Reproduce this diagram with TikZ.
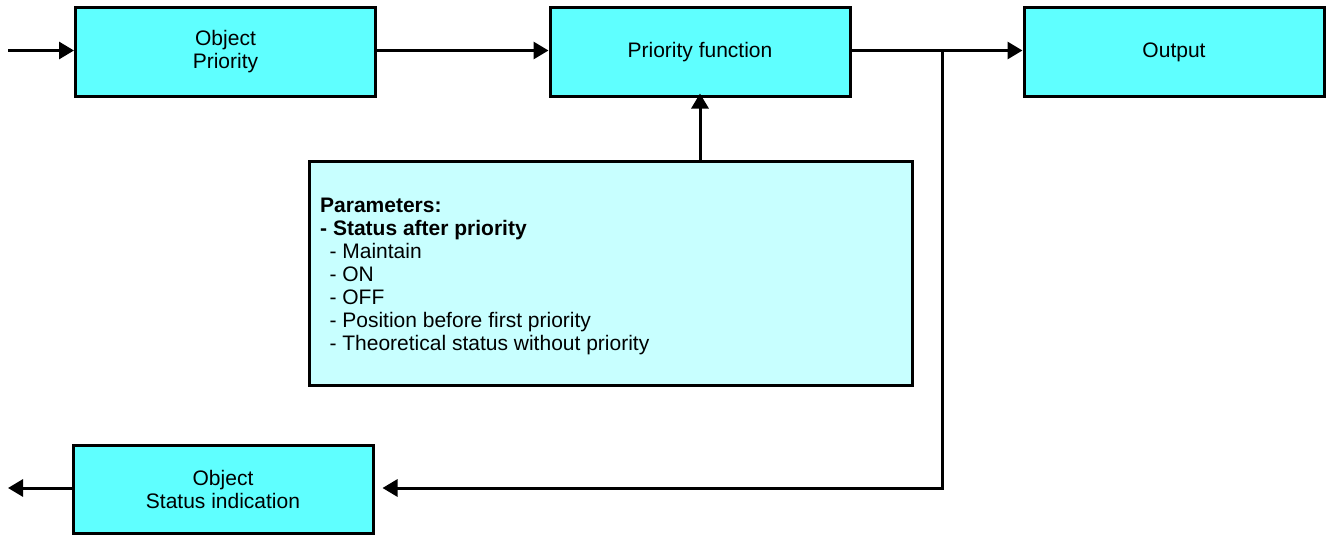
\documentclass[tikz,border=0pt]{standalone}
\usepackage{fontspec}
\setmainfont{Liberation Sans}
\usetikzlibrary{arrows.meta}
\definecolor{boxcyan}{HTML}{5FFFFF}
\definecolor{paramcyan}{HTML}{C8FFFF}
\tikzset{
  blk/.style={draw=black, line width=3pt, fill=boxcyan, minimum width=300pt, minimum height=88pt, inner sep=0pt, align=center, font=\fontsize{21}{23}\selectfont},
  conn/.style={line width=3pt, -{Triangle[length=15pt,width=17pt]}},
  plain/.style={line width=3pt}
}
\begin{document}
\begin{tikzpicture}[x=1pt,y=-1pt]
\useasboundingbox (0,0) rectangle (1329,535);
\node[blk] (op) at (225.5,52) {Object\\Priority};
\node[blk] (pf) at (700,52) {Priority function};
\node[blk] (out) at (1174,52) {Output};
\node[blk] (osi) at (223,489.5) {Object\\Status indication};
\node[draw=black, line width=3pt, fill=paramcyan, minimum width=603pt, minimum height=224pt, inner sep=0pt] (par) at (610.5,273) {};
\node[anchor=north west, align=left, inner sep=0pt, font=\fontsize{21}{23}\selectfont] (ptxt) at (320,198)
{\textbf{Parameters:}\\\textbf{- Status after priority}\\\ \,- Maintain\\\ \,- ON\\\ \,- OFF\\\ \,- Position before first priority\\\ \,- Theoretical status without priority};
\coordinate (in) at (8,50.5);
\coordinate (sout) at (8,488);
\coordinate (junc) at (942,50.5);
\coordinate (corner) at (942,488);
\draw[conn] (in) -- (in -| op.west);
\draw[conn] (op.east |- in) -- (pf.west |- in);
\draw[conn] (pf.east |- in) -- (out.west |- in);
\draw[conn] (par.north -| pf.south) -- ([yshift=4pt]pf.south);
\draw[plain] (junc) -- (corner);
\draw[conn] ([xshift=1.5pt]corner) -- ([xshift=8pt]osi.east |- corner);
\draw[conn] (osi.west |- corner) -- (sout);
\end{tikzpicture}
\end{document}
